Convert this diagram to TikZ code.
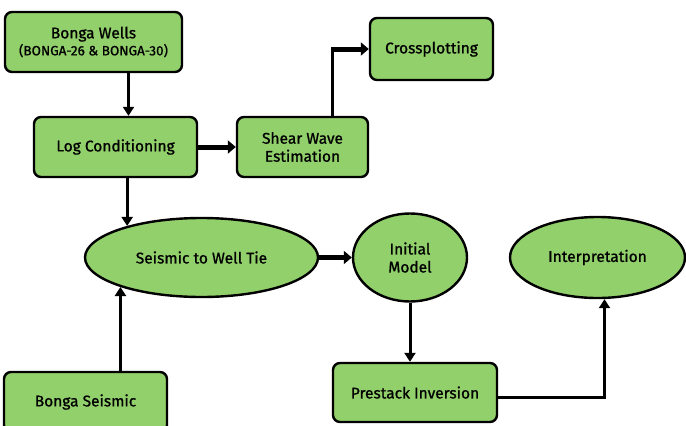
\documentclass[tikz,border=0pt]{standalone}
\usepackage{fontspec}
\setmainfont{Fira Sans}
\newfontfamily\labelfont[FakeBold=0.9]{Fira Sans}
\usepackage{tikz}
\usetikzlibrary{shapes.geometric, arrows.meta, positioning}
\usetikzlibrary{calc}
\usepackage{xcolor}
\definecolor{boxgreen}{RGB}{146,208,108}

\begin{document}
\begin{tikzpicture}[x=1pt, y=-1pt,
		box/.style={draw, fill=boxgreen, line width=2.4pt, rounded corners=7pt, align=center, font=\labelfont\fontsize{15.5}{18}\selectfont, inner sep=2pt},
		oval/.style={ellipse, draw, fill=boxgreen, line width=2.4pt, align=center, font=\labelfont\fontsize{15.5}{18}\selectfont, inner sep=0pt},
		arr/.style={line width=3pt, -{Triangle[length=9pt,width=11pt]}},
		thickarr/.style={line width=5pt, -{Triangle[length=8pt,width=13pt]}},
		plainline/.style={line width=3pt}]
		\clip (0,0) rectangle (686,426);
		\fill[white] (0,0) rectangle (686,426);

		\node[box, minimum width=177pt, minimum height=60pt] (wells) at (93.5,42) {Bonga Wells\\[-1pt]{\fontsize{13.5}{15}\selectfont (BONGA-26 \& BONGA-30)}};
		\node[box, minimum width=163pt, minimum height=60pt] (log) at (115.5,147) {Log Conditioning};
		\node[box, minimum width=131pt, minimum height=60pt] (shear) at (302.5,147) {Shear Wave\\Estimation};
		\node[box, minimum width=123pt, minimum height=62pt] (cross) at (431.5,49) {Crossplotting};
		\node[oval, minimum width=233pt, minimum height=79pt] (tie) at (201.5,257.5) {Seismic to Well Tie};
		\node[oval, minimum width=114pt, minimum height=88pt] (init) at (410,257.5) {Initial\\Model};
		\node[oval, minimum width=175pt, minimum height=81pt] (interp) at (597.5,257.5) {Interpretation};
		\node[box, minimum width=163pt, minimum height=60pt] (seismic) at (85.5,402) {Bonga Seismic};
		\node[box, minimum width=164pt, minimum height=59pt] (prestack) at (415,392.5) {Prestack Inversion};

		\draw[arr] ([xshift=35pt]wells.south) -- ([xshift=35pt]wells.south |- log.north);
		\draw[thickarr] (log.east) -- (shear.east -| shear.west);
		\coordinate (bend) at ([xshift=30pt]shear.north |- cross.west);
		\draw[plainline] ([xshift=30pt]shear.north) -- ([yshift=2.5pt]bend);
		\draw[thickarr] (bend) -- (cross.west);
		\draw[arr] (tie.157 |- log.south) -- (tie.157);
		\draw[arr] (tie.200 |- seismic.north) -- (tie.200);
		\draw[thickarr] (tie.east) -- (init.west);
		\draw[arr] (init.south) -- (init.south |- prestack.north);
		\draw[arr] ([yshift=-5pt]prestack.east) -| ([xshift=7pt]interp.south);
	\end{tikzpicture}
\end{document}
